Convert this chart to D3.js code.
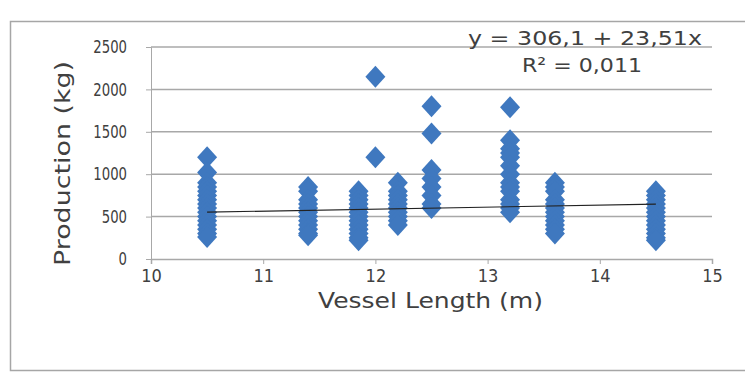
<!DOCTYPE html>
<html>
<head>
    <title>Production vs Vessel Length</title>
    <script src="https://cdnjs.cloudflare.com/ajax/libs/d3/7.8.5/d3.min.js"></script>
    <style>
        body { margin: 0; background: #fff; }
        text { font-family: "DejaVu Sans", sans-serif; fill: #404040; }
    </style>
</head>
<body>
    <div id="chart"></div>
    <script>
        // Vessel lengths (m) and production (kg)
        const lengths = [10.5, 11.4, 11.85, 12.0, 12.2, 12.5, 13.2, 13.6, 14.5];
        const production = [
            [1200, 1020, 900, 850, 800, 750, 700, 650, 600, 550, 500, 450, 400, 350, 300, 260],
            [850, 800, 700, 650, 600, 550, 500, 450, 400, 350, 300, 280],
            [800, 750, 700, 650, 600, 550, 500, 450, 400, 350, 300, 250, 220],
            [2150, 1200],
            [900, 800, 750, 700, 650, 600, 550, 500, 450, 400],
            [1800, 1480, 1050, 950, 850, 750, 650, 600],
            [1790, 1400, 1300, 1250, 1200, 1100, 1000, 900, 850, 800, 700, 650, 600, 550],
            [900, 850, 800, 700, 650, 600, 550, 500, 450, 400, 350, 300],
            [800, 750, 700, 650, 600, 550, 500, 450, 400, 350, 300, 250, 220]
        ];
        const xTicks = [10, 11, 12, 13, 14, 15];
        const yTicks = [0, 500, 1000, 1500, 2000, 2500];
        const trend = {intercept: 306.1, slope: 23.51, from: 10.5, to: 14.5};

        const points = [];
        lengths.forEach((len, i) => production[i].forEach(v => points.push({len, v})));

        const W = 745, H = 377;
        const margin = {top: 47, right: 33, bottom: 118, left: 151};
        const width = W - margin.left - margin.right;
        const height = H - margin.top - margin.bottom;

        const svg = d3.select("#chart").append("svg")
            .attr("width", W).attr("height", H);

        // outer chart frame
        svg.append("rect")
            .attr("x", 10.5).attr("y", 21.5)
            .attr("width", 740).attr("height", 349)
            .attr("fill", "none").attr("stroke", "#a6a6a6").attr("stroke-width", 1.5);

        const g = svg.append("g").attr("transform", `translate(${margin.left},${margin.top})`);

        const x = d3.scaleLinear().domain([10, 15]).range([0, width]);
        const y = d3.scaleLinear().domain([0, 2500]).range([height, 0]);

        // gridlines
        g.append("g")
            .selectAll("line")
            .data(yTicks.slice(1))
            .join("line")
            .attr("x1", 0).attr("x2", width)
            .attr("y1", d => y(d)).attr("y2", d => y(d))
            .attr("stroke", "#a8a8a8").attr("stroke-width", 1.5);

        // y axis
        const yAxis = g.append("g")
            .call(d3.axisLeft(y).tickValues(yTicks).tickFormat(d3.format("d")).tickSize(5).tickPadding(18));
        yAxis.select(".domain").attr("stroke", "#a8a8a8");
        yAxis.selectAll(".tick line").attr("stroke", "#a8a8a8");
        yAxis.selectAll("text").style("font-size", "18px").style("fill", "#404040")
            .style("font-family", "'DejaVu Sans Condensed', sans-serif")
            .attr("transform", "scale(0.82,1)").attr("x", -24 / 0.82);

        // x axis
        const xAxis = g.append("g")
            .attr("transform", `translate(0,${height})`)
            .call(d3.axisBottom(x).tickValues(xTicks).tickFormat(d3.format("d")).tickSize(5).tickPadding(5));
        xAxis.select(".domain").attr("stroke", "#a8a8a8").attr("stroke-width", 1.5);
        xAxis.selectAll(".tick line").attr("stroke", "#a8a8a8");
        xAxis.selectAll("text").style("font-size", "18px").style("fill", "#404040")
            .style("font-family", "'DejaVu Sans Condensed', sans-serif");

        // diamonds
        const diamond = "M0,-11L10,0L0,11L-10,0Z";
        g.append("g")
            .selectAll("path")
            .data(points)
            .join("path")
            .attr("d", diamond)
            .attr("transform", d => `translate(${x(d.len)},${y(d.v)})`)
            .attr("fill", "#3f78bf");

        // linear trend line
        g.append("line")
            .attr("x1", x(trend.from)).attr("y1", y(trend.intercept + trend.slope * trend.from))
            .attr("x2", x(trend.to)).attr("y2", y(trend.intercept + trend.slope * trend.to))
            .attr("stroke", "#222").attr("stroke-width", 1.2);

        // trend equation
        svg.append("text")
            .attr("x", 468).attr("y", 45)
            .style("font-size", "20px")
            .attr("textLength", 234).attr("lengthAdjust", "spacingAndGlyphs")
            .text("y  = 306,1 + 23,51x");
        svg.append("text")
            .attr("x", 522).attr("y", 72)
            .style("font-size", "20px")
            .attr("textLength", 120).attr("lengthAdjust", "spacingAndGlyphs")
            .text("R² = 0,011");

        // axis titles
        svg.append("text")
            .attr("x", 318).attr("y", 308)
            .style("font-size", "21px")
            .attr("textLength", 225).attr("lengthAdjust", "spacingAndGlyphs")
            .text("Vessel Length (m)");
        svg.append("text")
            .attr("transform", "translate(70,266) rotate(-90)")
            .style("font-size", "21px")
            .attr("textLength", 205).attr("lengthAdjust", "spacingAndGlyphs")
            .text("Production (kg)");
    </script>
</body>
</html>
